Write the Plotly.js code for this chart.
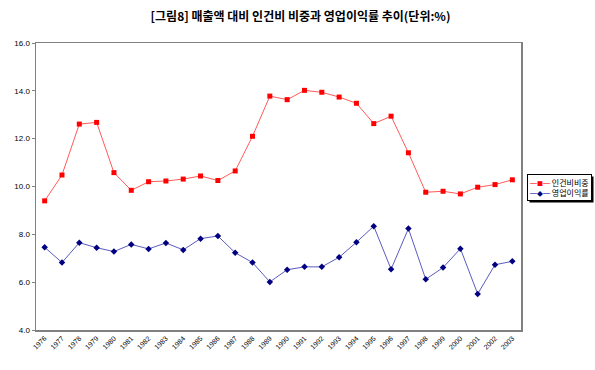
<!DOCTYPE html>
<html><head><meta charset="utf-8">
<script src="https://cdn.plot.ly/plotly-3.0.1.min.js"></script>
<style>body{margin:0;background:#fff}#c{width:595px;height:370px}</style>
</head><body><div id="c"></div>
<script>
var years = ["1976","1977","1978","1979","1980","1981","1982","1983","1984","1985","1986","1987","1988","1989","1990","1991","1992","1993","1994","1995","1996","1997","1998","1999","2000","2001","2002","2003"];
var laborShare = [9.40,10.48,12.61,12.68,10.58,9.84,10.20,10.23,10.31,10.44,10.25,10.65,12.10,13.78,13.63,14.02,13.94,13.74,13.48,12.63,12.94,11.41,9.76,9.80,9.69,9.97,10.08,10.28];
var opMargin = [7.46,6.82,7.65,7.44,7.28,7.58,7.39,7.64,7.35,7.82,7.93,7.23,6.82,6.01,6.52,6.64,6.64,7.04,7.67,8.34,6.54,8.24,6.12,6.61,7.40,5.51,6.73,6.87];
var seriesNames = ["인건비비중", "영업이익률"];
var yTicks = [4,6,8,10,12,14,16];
var yTickText = ["4.0","6.0","8.0","10.0","12.0","14.0","16.0"];

var lineColors = ["#ff5a5a", "#5b5bc0"];
var markerColors = ["#ff0000", "#000080"];
var markerGlyphs = ["■", "◆"];

var traces = [
  {x: years, y: laborShare, name: seriesNames[0], type: "scatter", mode: "lines+markers",
   line: {color: lineColors[0], width: 1}, marker: {symbol: "square", size: 5, color: markerColors[0]}},
  {x: years, y: opMargin, name: seriesNames[1], type: "scatter", mode: "lines+markers",
   line: {color: lineColors[1], width: 1}, marker: {symbol: "diamond", size: 5, color: markerColors[1]}}
];

function legendRow(i) {
  var dash = "<span style='color:" + lineColors[i] + ";font-size:7px'>━</span>";
  return dash + "<span style='color:" + markerColors[i] + ";font-size:6px'>" + markerGlyphs[i] + "</span>" +
         dash + " " + seriesNames[i];
}
var legendText = legendRow(0) + "<br>" + legendRow(1);
var legendX = (527 - 36) / 485, legendY = (330 - 174) / 287;
var legendFont = {family: "Noto Sans CJK KR, sans-serif", size: 8, color: "#000"};

var layout = {
  width: 595, height: 370,
  margin: {l: 36, r: 74, t: 43, b: 40, autoexpand: false},
  paper_bgcolor: "#fff", plot_bgcolor: "#fff",
  font: {family: "Liberation Sans, Arial, sans-serif", size: 8, color: "#000"},
  title: {text: "[그림8] 매출액 대비 인건비 비중과 영업이익률 추이(단위:%)",
          font: {family: "Noto Sans CJK KR, sans-serif", size: 12, color: "#000", weight: "bold"},
          x: 0.505, xanchor: "center", y: 0.955, yanchor: "middle"},
  xaxis: {type: "category", range: [-0.5, 27.5], tickangle: -45, showgrid: false, automargin: false,
          showline: true, linecolor: "#808080", linewidth: 1.5, mirror: true,
          ticks: "", tickfont: {size: 7, color: "#000"}, fixedrange: true},
  yaxis: {range: [4, 16], tickvals: yTicks, ticktext: yTickText, showgrid: false, automargin: false,
          showline: true, linecolor: "#808080", linewidth: 1.5, mirror: true, zeroline: false,
          ticks: "outside", ticklen: 3, tickcolor: "#808080", tickfont: {size: 8, color: "#000"}},
  showlegend: false,
  annotations: [
    {xref: "paper", yref: "paper", x: legendX, y: legendY, xanchor: "left", yanchor: "top",
     showarrow: false, align: "left", text: legendText,
     font: legendFont, bgcolor: "#fff", bordercolor: "#000", borderwidth: 1, borderpad: 2}
  ]
};
Plotly.newPlot("c", traces, layout, {displayModeBar: false, staticPlot: true}).then(function (gd) {
  // drop shadow behind the legend box, sized from the rendered box
  var bg = gd.querySelector(".annotation .bg");
  if (!bg) return;
  var r = bg.getBoundingClientRect();
  var root = gd.getBoundingClientRect();
  var fs = gd._fullLayout._size;
  function px2x(p) { return (p - root.left - fs.l) / fs.w; }
  function py2y(p) { return 1 - (p - root.top - fs.t) / fs.h; }
  Plotly.relayout(gd, {shapes: [{type: "rect", xref: "paper", yref: "paper", layer: "above",
    x0: px2x(r.left + 2), x1: px2x(r.right + 2), y0: py2y(r.bottom + 2), y1: py2y(r.top + 2),
    fillcolor: "#000", line: {width: 0}}]});
});
</script></body></html>
